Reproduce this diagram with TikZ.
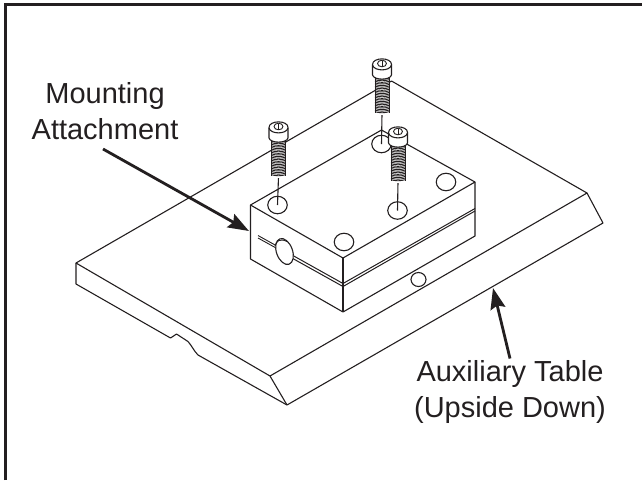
\documentclass[tikz,border=0pt]{standalone}
\usepackage{fontspec}
\setmainfont{Liberation Sans}
\usetikzlibrary{arrows.meta,shapes.geometric}
\definecolor{ink}{HTML}{231F20}
\tikzset{
  edge/.style = {draw=ink, line width=1.1pt, line join=round},
  face/.style = {edge, fill=white},
  hole/.style = {draw=ink, line width=1.1pt, ellipse, inner sep=0pt, minimum width=19.5pt, minimum height=17.5pt},
  label/.style = {text=ink, font=\fontsize{29}{36}\selectfont, align=center, inner sep=0pt},
  pointer/.style = {draw=ink, line width=2.8pt, -{Stealth[length=21pt,width=15pt,inset=3pt]}}
}
\begin{document}
\begin{tikzpicture}[x=1pt, y=-1pt]
  \useasboundingbox (0,0) rectangle (642,480);
  % frame, cut off on the right and at the bottom
  \draw[ink, line width=2.8pt] (5.5,480) -- (5.5,4.5) -- (642,4.5);

  % auxiliary table
  \coordinate (tl) at (76,263);
  \coordinate (tb) at (391.5,81);
  \coordinate (tr) at (587,193);
  \coordinate (tf) at (270,376);
  \coordinate (lr) at (603,223);
  \coordinate (lf) at (287,405);
  \coordinate (ll) at (76,284);
  \draw[edge] (tl) -- (tb) -- (tr) -- (tf) -- cycle;
  \draw[edge] (tl) -- (ll) -- (170.5,338) -- (176.5,334) -- (188,341.5)
    .. controls (192,346) and (194,351) .. (198,355) -- (lf) -- (lr) -- (tr);
  \draw[edge] (tf) -- (lf);
  \node[hole, minimum width=15pt, minimum height=14pt] (tablehole) at (418.5,279.5) {};

  % mounting block
  \coordinate (bl) at (250.5,205);
  \coordinate (bb) at (381.5,130);
  \coordinate (br) at (475,182);
  \coordinate (bf) at (343,258);
  \coordinate (dl) at (250.5,259);
  \coordinate (df) at (343,312);
  \coordinate (dr) at (475,236);
  \draw[face] (bl) -- (bb) -- (br) -- (dr) -- (df) -- (dl) -- cycle;
  \draw[edge] (bl) -- (bf) -- (br);
  \draw[edge, line width=1.6pt] (bf) -- (df);

  % slit and cross hole
  \draw[edge, line width=0.9pt] (258,235.5) -- (276,245.5) (258,238) -- (277,248.5);
  \draw[edge, line width=1pt] (292,255) -- (343,283.5) -- (475,208.5);
  \draw[edge, line width=1pt] (291,257.5) -- (343,286.5) -- (475,211);
  \node[hole, fill=white, rotate=20, minimum width=16pt, minimum height=27pt] (crosshole) at (284.5,251.5) {};
  \draw[edge, line width=0.9pt] (275,246) .. controls (276,241) and (280,238) .. (287,241.5);

  % holes on top
  \node[hole] (h1) at (277.5,205) {};
  \node[hole] (h2) at (381.5,144) {};
  \node[hole] (h3) at (446,182) {};
  \node[hole] (h4) at (344,242) {};
  \node[hole] (h5) at (397.5,210.5) {};

  % screws, back to front
  \foreach \name/\sx/\sy/\tgt in {b/382/59/h2, c/398/127/h5, a/278.5/122/h1} {
    \begin{scope}[shift={(\sx,\sy)}]
      \coordinate (\name-end) at (0,55);
      \draw[edge] (\name-end) -- (\tgt.center);
      \fill[white] (-7,14) rectangle (7,56);
      \draw[edge, line width=0.9pt] (-7,16) -- (-7,54) (7,16) -- (7,54);
      \foreach \ty in {17.5,19.1,...,54}
        \draw[ink, line width=0.9pt] (-7,\ty) .. controls (-3,\ty+1.4) and (3,\ty+1.4) .. (7,\ty);
      \draw[face] (-9.5,5.5) -- (-9.5,16) .. controls (-8,21.5) and (8,21.5) .. (9.5,16) -- (9.5,5.5)
        .. controls (9.5,-2) and (-9.5,-2) .. cycle;
      \draw[edge] (-9.5,6) .. controls (-8,12.5) and (8,12.5) .. (9.5,6);
      \draw[edge, line width=0.9pt] (0,4.5) ellipse [x radius=4.5pt, y radius=3.3pt];
      \draw[edge, line width=0.9pt] (0,1.5) -- (0,7.5);
    \end{scope}
  }

  % labels
  \node[label] (attach) at (105,111.5) {Mounting\\Attachment};
  \node[label] (table) at (510,392) {Auxiliary Table\\(Upside Down)};
  \coordinate (attach-from) at (103,149);
  \coordinate (attach-to) at (249,231);
  \coordinate (table-from) at (510,358.5);
  \coordinate (table-to) at (493,288);
  \draw[pointer] (attach-from) -- (attach-to);
  \draw[pointer] (table-from) -- (table-to);
\end{tikzpicture}
\end{document}
